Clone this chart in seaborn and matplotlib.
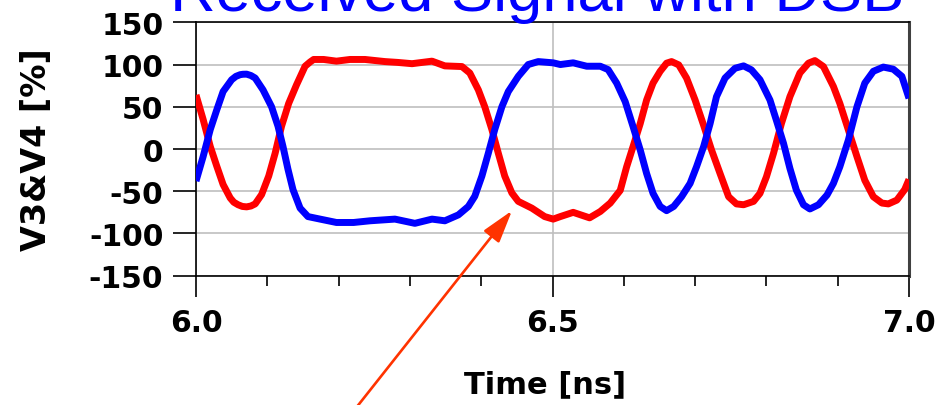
import numpy as np
import pandas as pd
import matplotlib
matplotlib.use("Agg")
import matplotlib.pyplot as plt
import seaborn as sns

# ---- data ----
t_red = [6.000, 6.010, 6.020, 6.029, 6.038, 6.048, 6.053, 6.059, 6.065, 6.071,
         6.077, 6.083, 6.092, 6.102, 6.111, 6.120, 6.130, 6.141, 6.153, 6.160,
         6.165, 6.179, 6.197, 6.216, 6.237, 6.265, 6.283, 6.303, 6.331, 6.349,
         6.373, 6.384, 6.396, 6.405, 6.415, 6.424, 6.433, 6.443, 6.452, 6.471,
         6.489, 6.501, 6.511, 6.529, 6.552, 6.567, 6.581, 6.595, 6.604, 6.613,
         6.623, 6.632, 6.641, 6.651, 6.660, 6.667, 6.677, 6.688, 6.700, 6.712,
         6.723, 6.735, 6.747, 6.758, 6.768, 6.782, 6.791, 6.800, 6.810, 6.821,
         6.833, 6.847, 6.859, 6.868, 6.880, 6.894, 6.903, 6.915, 6.927, 6.938,
         6.950, 6.962, 6.971, 6.983, 6.994, 7.000]
v_red = [64, 35, 3, -20, -42, -58, -63, -66, -68, -68.5,
         -67.5, -65, -54, -32, -5, 27, 54, 76, 98, 103,
         106, 106, 104, 106, 106, 103.5, 102.5, 101, 104, 98.4,
         97.6, 90, 70, 50, 23, -5, -32, -52, -62, -70,
         -80, -83, -80, -75, -81.5, -74, -64, -49, -21, 3,
         30, 58, 78, 92, 101.6, 103.5, 99.6, 84, 58, 28,
         -1, -29, -56.5, -65, -66, -62, -52.5, -33, -5, 30,
         62, 90, 101.6, 104.7, 97.6, 74, 54, 22.5, -9, -37,
         -56.5, -64, -65, -60.5, -48, -36]

t_blue = [6.000, 6.010, 6.020, 6.029, 6.038, 6.050, 6.056, 6.062, 6.066, 6.071,
          6.077, 6.083, 6.094, 6.106, 6.115, 6.122, 6.129, 6.136, 6.146, 6.157,
          6.174, 6.197, 6.221, 6.244, 6.279, 6.307, 6.331, 6.349, 6.368, 6.382,
          6.391, 6.401, 6.410, 6.419, 6.429, 6.438, 6.452, 6.466, 6.480, 6.501,
          6.511, 6.529, 6.548, 6.567, 6.578, 6.590, 6.602, 6.613, 6.623, 6.632,
          6.641, 6.651, 6.660, 6.670, 6.681, 6.693, 6.702, 6.712, 6.721, 6.730,
          6.742, 6.756, 6.768, 6.779, 6.791, 6.805, 6.814, 6.824, 6.833, 6.842,
          6.852, 6.861, 6.873, 6.885, 6.894, 6.903, 6.915, 6.927, 6.938, 6.950,
          6.964, 6.978, 6.990, 7.000]
v_blue = [-38, -9, 23, 46, 68, 82, 86, 88, 88.5, 88.6,
          87, 84, 70, 50, 27, 3, -24, -48, -70, -80,
          -83, -87, -87, -85, -83, -88, -83, -85, -78, -68,
          -56, -32, -5, 23, 50, 68, 86, 100, 103.5, 102,
          100, 102, 98, 98, 94, 78, 56, 26.5, -1, -29,
          -52.5, -68, -73, -68, -56.5, -40.7, -21, 3, 30, 62,
          84, 95.6, 98.4, 93.7, 82, 58, 34, 6.7, -23, -48.6,
          -66, -71, -66, -54.5, -40.7, -21, 10.7, 50, 78, 92,
          97, 94.5, 86, 60]

x_ticks = [6.0, 6.5, 7.0]
x_tick_labels = ["6.0", "6.5", "7.0"]
x_minor = [6.1, 6.2, 6.3, 6.4, 6.6, 6.7, 6.8, 6.9]
y_ticks = [150, 100, 50, 0, -50, -100, -150]
y_tick_labels = ["150", "100", "50", "0", "-50", "-100", "-150"]

title = "Received Signal with DSB"
xlabel = "Time [ns]"
ylabel = "V3&V4 [%]"

df = pd.concat([
    pd.DataFrame({"t": t_red, "v": v_red, "s": "V3"}),
    pd.DataFrame({"t": t_blue, "v": v_blue, "s": "V4"}),
])

sns.set_theme(style="white")
plt.rcParams["font.family"] = ["DejaVu Sans"]
plt.rcParams["axes.unicode_minus"] = False

fig = plt.figure(figsize=(9.45, 4.06), dpi=100)
ax = fig.add_axes([196/945, 1-276.7/406, 713/945, 253.4/406])

sns.lineplot(data=df, x="t", y="v", hue="s", palette={"V3": "#FF0000", "V4": "#0000FF"},
             linewidth=5.0, ax=ax, legend=False, sort=False, estimator=None, zorder=3)
for ln in ax.get_lines():
    ln.set_solid_joinstyle("round")
    ln.set_solid_capstyle("butt")

ax.set_xlim(6.0, 7.0)
ax.set_ylim(-150, 150)
ax.set_xticks(x_ticks)
ax.set_xticklabels(x_tick_labels)
ax.set_xticks(x_minor, minor=True)
ax.set_yticks(y_ticks)
ax.set_yticklabels(y_tick_labels)

for lab in ax.get_xticklabels() + ax.get_yticklabels():
    lab.set_fontweight("bold")
    lab.set_fontsize(21.5)
    lab.set_color("black")

ax.tick_params(axis="x", which="major", direction="out", length=15, width=1.2,
               pad=8.5, colors="black", bottom=True)
ax.tick_params(axis="x", which="minor", direction="out", length=7.5, width=1.2,
               colors="black", bottom=True)
ax.tick_params(axis="y", which="major", direction="out", length=16.5, width=1.2,
               pad=7, colors="black", left=True)

ax.grid(True, axis="y", color="#BFBFBF", linewidth=1.2, zorder=0)
ax.grid(True, axis="x", which="major", color="#BFBFBF", linewidth=1.2, zorder=0)
ax.set_axisbelow(True)

for side in ["left", "bottom", "top"]:
    ax.spines[side].set_color("black")
    ax.spines[side].set_linewidth(1.2)
ax.spines["right"].set_color("#404040")
ax.spines["right"].set_linewidth(2.2)

ax.set_xlabel(xlabel, fontsize=22, fontweight="bold", color="black")
ax.set_ylabel(ylabel, fontsize=24, fontweight="bold", color="black")
ax.xaxis.set_label_coords(0.4895, -0.369)
ax.yaxis.set_label_coords(-0.2006, 0.5)

fig.text(537/945, 1-11.5/406, title, fontsize=45.5, color="#0000FF",
         family=["Liberation Sans", "DejaVu Sans"], ha="center", va="baseline")

ax.annotate("", xy=(6.4432, -73), xycoords="data",
            xytext=(352, -8), textcoords="figure pixels",
            arrowprops=dict(arrowstyle="-|>,head_length=1.0,head_width=0.3",
                            mutation_scale=20, color="#FF3300", lw=1.9,
                            shrinkA=0, shrinkB=0),
            annotation_clip=False, zorder=5)

fig.savefig("out.png", dpi=100)
